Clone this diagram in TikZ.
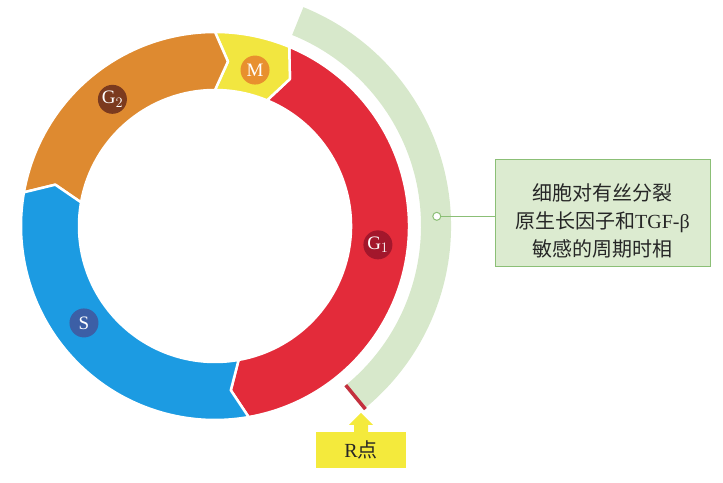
\documentclass[tikz,border=0pt]{standalone}
\usepackage{fontspec}
\setmainfont{Liberation Serif}
\newfontfamily\cjk{Noto Sans CJK SC}
\definecolor{gonered}{HTML}{E32B3A}
\definecolor{gonedark}{HTML}{A3172C}
\definecolor{myellow}{HTML}{F2E640}
\definecolor{mdot}{HTML}{E8902E}
\definecolor{gtwoorange}{HTML}{DE8A30}
\definecolor{gtwodark}{HTML}{7B3A1E}
\definecolor{sblue}{HTML}{1C9BE2}
\definecolor{sdark}{HTML}{3C5FA6}
\definecolor{arcgreen}{HTML}{D7E8CB}
\definecolor{boxgreen}{HTML}{DCEBD0}
\definecolor{linegreen}{HTML}{8BBF76}
\definecolor{tickred}{HTML}{C4303E}
\definecolor{ryellow}{HTML}{F4EA3C}
\begin{document}
\begin{tikzpicture}[x=1pt,y=1pt,
    phase/.style={draw=white, line width=2.5pt, line join=round},
    dot/.style={circle, inner sep=0pt, minimum size=29pt, text=white,
      font=\fontsize{19}{19}\selectfont},
    note/.style={draw=linegreen, fill=boxgreen, line width=1pt,
      minimum width=215pt, minimum height=107pt},
    notetext/.style={align=center, text=black!85,
      font=\fontsize{20}{28}\selectfont},
    rbox/.style={fill=ryellow, minimum width=90pt, minimum height=36pt,
      text=black!85, font=\fontsize{20}{20}\selectfont}]
  \useasboundingbox (0,0) rectangle (723,482);
  \begin{scope}[shift={(215,256)}]
    % phases, clockwise: M -> G1 -> S -> G2
    \fill[gonered, phase] (-80:194) arc[start angle=-80, end angle=67.5, radius=194]
      -- (63:165) -- (67.5:136) arc[start angle=67.5, end angle=-80, radius=136]
      -- (-84.5:165) -- cycle;
    \fill[myellow, phase] (67.5:194) arc[start angle=67.5, end angle=90, radius=194]
      -- (85.5:165) -- (90:136) arc[start angle=90, end angle=67.5, radius=136]
      -- (63:165) -- cycle;
    \fill[gtwoorange, phase] (90:194) arc[start angle=90, end angle=170, radius=194]
      -- (165.5:165) -- (170:136) arc[start angle=170, end angle=90, radius=136]
      -- (85.5:165) -- cycle;
    \fill[sblue, phase] (170:194) arc[start angle=170, end angle=280, radius=194]
      -- (275.5:165) -- (280:136) arc[start angle=280, end angle=170, radius=136]
      -- (165.5:165) -- cycle;

    \node[dot, fill=gonedark] (gone) at (-6.6:164) {G$_1$};
    \node[dot, fill=mdot] (mphase) at (75.6:161) {M};
    \node[dot, fill=gtwodark] (gtwo) at (129:163) {G$_2$};
    \node[dot, fill=sdark] (sphase) at (216.5:163) {S};

    % sensitive part of G1
    \fill[arcgreen] (-51:206) arc[start angle=-51, end angle=68, radius=206]
      -- (68:236) arc[start angle=68, end angle=-51, radius=236] -- cycle;
    \draw[tickred, line width=3.5pt] (-50.6:206) -- (-50.6:237);
    \node[circle, draw=linegreen, fill=white, line width=1pt, inner sep=0pt,
      minimum size=8pt] (pin) at (2.5:222) {};
  \end{scope}

  \node[note] (callout) at (602.5,268.5) {};
  \node[notetext] (calloutText) at ([yshift=-7.5pt]callout.center)
    {{\cjk 细胞对有丝分裂}\\{\cjk 原生长因子和}TGF-β\\{\cjk 敏感的周期时相}};
  \draw[linegreen, line width=1pt] (pin) -- (pin -| callout.west);

  \node[rbox] (rpoint) at (361,32) {R{\cjk 点}};
  \fill[ryellow] ([xshift=-7pt,yshift=-1pt]rpoint.north) -- ++(0,8) -- ++(-5,0)
    -- ++(12,12) -- ++(12,-12) -- ++(-5,0) -- ++(0,-8) -- cycle;
\end{tikzpicture}
\end{document}
